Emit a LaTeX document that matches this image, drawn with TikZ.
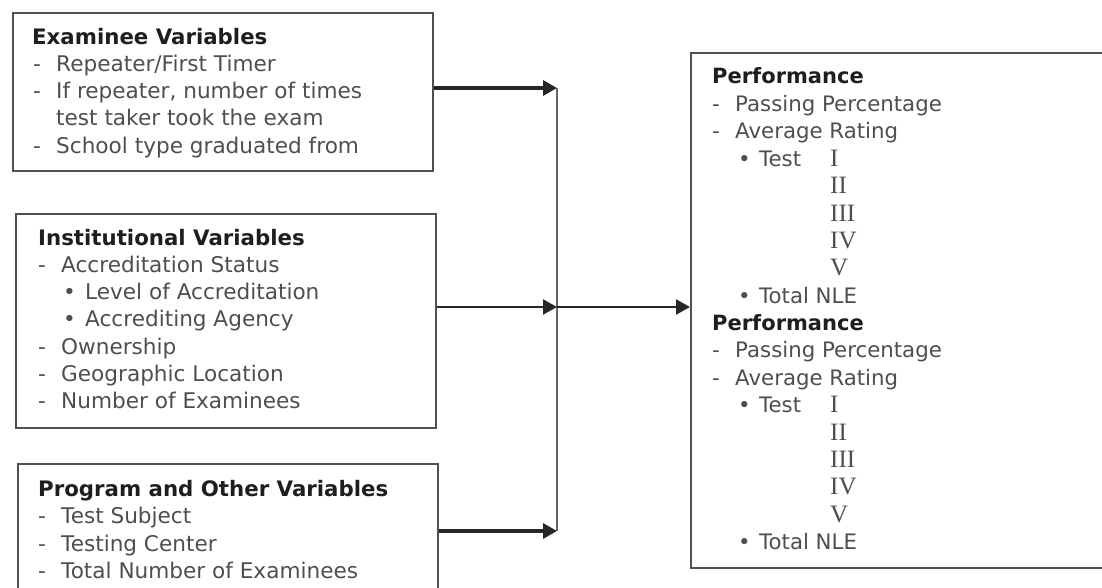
\documentclass[tikz,border=0pt]{standalone}
\usepackage{fontspec}
\setmainfont{DejaVu Sans}
\newfontfamily\romfont{Liberation Serif}
\usetikzlibrary{arrows.meta}
\definecolor{itemgray}{HTML}{4E4E4E}
\definecolor{headgray}{HTML}{1E1E1E}
\definecolor{boxgray}{HTML}{505050}
\newcommand{\dsh}[1]{\makebox[23pt][l]{-}#1}
\newcommand{\bul}[1]{\makebox[22pt][l]{\textbullet}#1}
\newcommand{\rbul}[1]{\makebox[21pt][l]{\textbullet}#1}
\begin{document}
\begin{tikzpicture}[x=1pt,y=-1pt,
  box/.style={draw=boxgray, line width=1.8pt, anchor=north west, inner sep=0pt},
  txt/.style={anchor=base west, inner sep=0pt, font=\fontsize{21.3}{24}\selectfont, text=itemgray},
  ltxt/.style={txt, font=\fontsize{21.6}{24}\selectfont},
  head/.style={anchor=base west, inner sep=0pt, font=\fontsize{21}{24}\selectfont\bfseries, text=headgray},
  lhead/.style={head, font=\fontsize{21.3}{24}\selectfont\bfseries},
  rom/.style={anchor=base west, inner sep=0pt, font=\fontsize{25}{24}\selectfont\romfont, text=itemgray},
  flow/.style={draw=black!85, line width=3.2pt, -{Triangle[length=14pt,width=15pt]}},
  thinflow/.style={draw=black!85, line width=2.2pt, -{Triangle[length=14pt,width=15pt]}},
  spine/.style={draw=black!60, line width=1.8pt}]
\useasboundingbox (0,0) rectangle (1102,588);
\clip (0,0) rectangle (1102,588);
% boxes
\node[box, minimum width=420pt, minimum height=158pt] (b1) at (12,12) {};
\node[box, minimum width=420pt, minimum height=214pt] (b2) at (15,213) {};
\node[box, minimum width=420pt, minimum height=150pt] (b3) at (17,463) {};
\node[box, minimum width=430pt, minimum height=515pt] (rb) at (690,52) {};
% box 1 text
\node[lhead] (t11) at (32,45) {Examinee Variables};
\node[ltxt] (t12) at (33,72) {\dsh{Repeater/First Timer}};
\node[ltxt] (t13) at (33,99) {\dsh{If repeater, number of times}};
\node[ltxt] (t14) at (56,126) {test taker took the exam};
\node[ltxt] (t15) at (33,154) {\dsh{School type graduated from}};
% box 2 text
\node[lhead] (t21) at (38,245) {Institutional Variables};
\node[ltxt] (t22) at (38,272.3) {\dsh{Accreditation Status}};
\node[ltxt] (t23) at (63,299.6) {\bul{Level of Accreditation}};
\node[ltxt] (t24) at (63,326.9) {\bul{Accrediting Agency}};
\node[ltxt] (t25) at (38,354.2) {\dsh{Ownership}};
\node[ltxt] (t26) at (38,381.5) {\dsh{Geographic Location}};
\node[ltxt] (t27) at (38,408.8) {\dsh{Number of Examinees}};
% box 3 text
\node[lhead] (t31) at (38,496) {Program and Other Variables};
\node[ltxt] (t32) at (38,523.5) {\dsh{Test Subject}};
\node[ltxt] (t33) at (38,551) {\dsh{Testing Center}};
\node[ltxt] (t34) at (38,578.5) {\dsh{Total Number of Examinees}};
% right box text
\foreach \off/\k in {0/a,246.5/b}{
  \node[head] (p1\k) at (712,84+\off) {Performance};
  \node[txt] (p2\k) at (712,111.4+\off) {\dsh{Passing Percentage}};
  \node[txt] (p3\k) at (712,138.8+\off) {\dsh{Average Rating}};
  \node[txt] (p4\k) at (738,166.2+\off) {\rbul{Test}};
  \node[rom] (r1\k) at (830,166.2+\off) {I};
  \node[rom] (r2\k) at (830,193.6+\off) {II};
  \node[rom] (r3\k) at (830,221+\off) {III};
  \node[rom] (r4\k) at (830,248.4+\off) {IV};
  \node[rom] (r5\k) at (830,275.8+\off) {V};
  \node[txt] (p5\k) at (738,303.2+\off) {\rbul{Total NLE}};
}
% connectors
\coordinate (j1) at (557,88);
\coordinate (j2) at (557,307);
\coordinate (j3) at (557,531);
\draw[spine] (j1) -- (j3);
\draw[flow] (b1.east |- j1) -- (j1);
\draw[thinflow] (b2.east |- j2) -- (j2);
\draw[flow] (b3.east |- j3) -- (j3);
\draw[thinflow] (j2) -- (rb.west |- j2);
\end{tikzpicture}
\end{document}
